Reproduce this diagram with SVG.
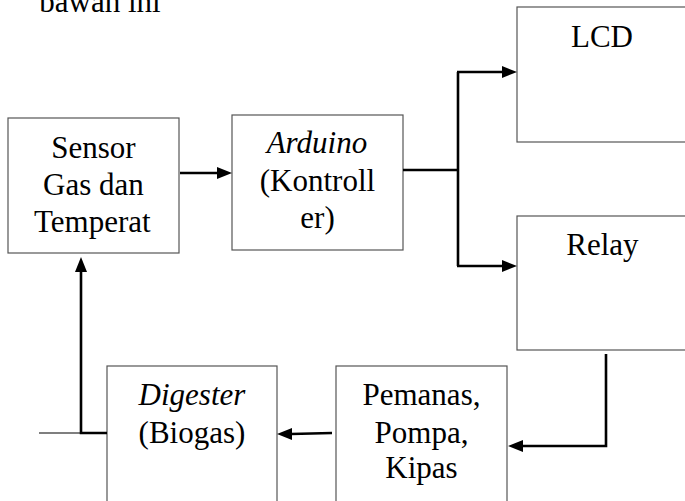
<svg xmlns="http://www.w3.org/2000/svg" width="685" height="501" viewBox="0 0 685 501">
<rect width="685" height="501" fill="#fff"/>
<text x="39.3" y="12" font-family="Liberation Serif" font-size="31">bawah ini</text>
<g id="sensor">
<rect x="8" y="118" width="171" height="135" fill="#fff" stroke="#555" stroke-width="1.2"/>
<text x="51.3" y="158" font-family="Liberation Serif" font-size="31">Sensor</text>
<text x="43.1" y="195" font-family="Liberation Serif" font-size="31">Gas dan</text>
<text x="34.1" y="232" font-family="Liberation Serif" font-size="31">Temperat</text>
</g>
<g id="arduino">
<rect x="232" y="115" width="171" height="135" fill="#fff" stroke="#555" stroke-width="1.2"/>
<text x="266.7" y="153" font-family="Liberation Serif" font-size="31" font-style="italic">Arduino</text>
<text x="259.8" y="191" font-family="Liberation Serif" font-size="31">(Kontroll</text>
<text x="300.3" y="228" font-family="Liberation Serif" font-size="31">er)</text>
</g>
<g id="lcd">
<rect x="517" y="7" width="180" height="135" fill="#fff" stroke="#555" stroke-width="1.2"/>
<text x="571" y="47" font-family="Liberation Serif" font-size="31">LCD</text>
</g>
<g id="relay">
<rect x="517" y="216" width="180" height="134" fill="#fff" stroke="#555" stroke-width="1.2"/>
<text x="566.3" y="255" font-family="Liberation Serif" font-size="31">Relay</text>
</g>
<g id="pemanas">
<rect x="336" y="366" width="171" height="150" fill="#fff" stroke="#555" stroke-width="1.2"/>
<text x="362.5" y="405" font-family="Liberation Serif" font-size="31">Pemanas,</text>
<text x="374.6" y="443" font-family="Liberation Serif" font-size="31">Pompa,</text>
<text x="385.3" y="478" font-family="Liberation Serif" font-size="31">Kipas</text>
</g>
<g id="digester">
<rect x="107" y="366" width="170" height="150" fill="#fff" stroke="#555" stroke-width="1.2"/>
<text x="138.6" y="405" font-family="Liberation Serif" font-size="31" font-style="italic">Digester</text>
<text x="138.6" y="443" font-family="Liberation Serif" font-size="31">(Biogas)</text>
</g>
<g id="connectors">
<g fill="none" stroke="#000" stroke-width="2.6">
<path d="M180,173 H218"/>
<path d="M403,170 H458"/>
<path d="M458,72 V266"/>
<path d="M457,72 H503"/>
<path d="M457,266 H503"/>
<path d="M606,354 V446 H522"/>
<path d="M332,433 L291,434"/>
<path d="M107,433 H81 V271"/>
<path d="M39,433 H81" stroke-width="1.2"/>
</g>
<g fill="#000">
<polygon points="217,167 232,173 217,179"/>
<polygon points="502,66 517,72 502,78"/>
<polygon points="502,260 517,266 502,272"/>
<polygon points="523,440 508,446 523,452"/>
<polygon points="292,428 277,434 292,440"/>
<polygon points="75,272 81,257 87,272"/>
</g>
</g>
</svg>
